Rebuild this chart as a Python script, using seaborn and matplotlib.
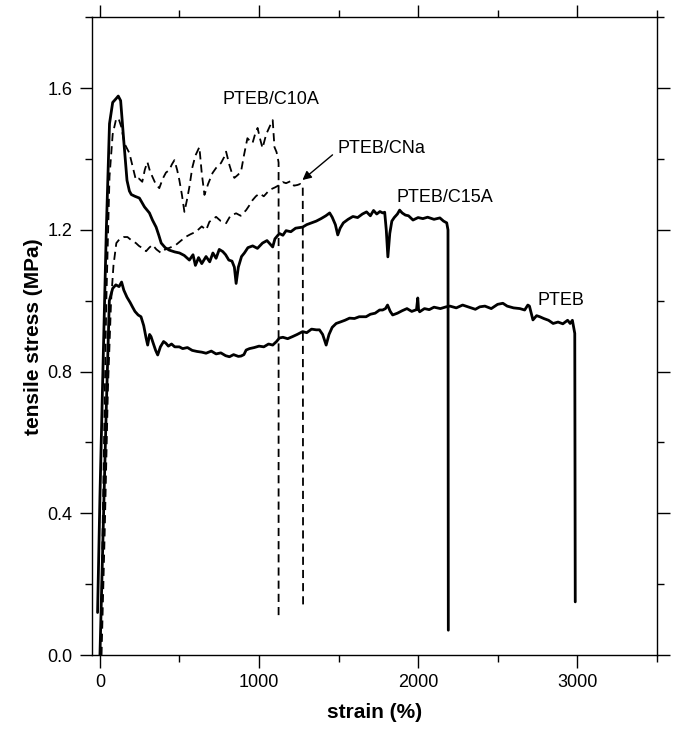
import matplotlib
matplotlib.use("Agg")
import matplotlib.pyplot as plt
from matplotlib.ticker import MultipleLocator
import seaborn as sns
import pandas as pd

# Stress-strain curves (strain in %, stress in MPa)
pteb_strain = [0, 20, 40, 59, 80, 100, 120, 136, 150, 170, 190, 204, 220, 240, 258, 275, 290, 300,
               312, 321, 335, 350, 363, 380, 400, 415, 430, 450, 470, 499, 520, 550, 580, 610, 640,
               667, 700, 730, 760, 790, 814, 840, 870, 887, 905, 919, 940, 970, 1000, 1030, 1060,
               1086, 1110, 1128, 1150, 1180, 1211, 1240, 1274, 1300, 1330, 1360, 1380, 1400, 1422,
               1440, 1460, 1485, 1510, 1540, 1569, 1600, 1630, 1673, 1700, 1730, 1758, 1777, 1795,
               1808, 1825, 1840, 1870, 1900, 1930, 1960, 1990, 1998, 2003, 2010, 2040, 2070, 2100,
               2140, 2177, 2200, 2240, 2280, 2320, 2360, 2388, 2420, 2460, 2500, 2533, 2560, 2600,
               2640, 2670, 2690, 2700, 2722, 2745, 2765, 2790, 2820, 2849, 2880, 2910, 2940, 2956,
               2970, 2985, 2988]
pteb_stress = [0.0, 0.35, 0.70, 1.0, 1.035, 1.045, 1.040, 1.053, 1.030, 1.010, 0.995, 0.983, 0.970,
               0.960, 0.955, 0.930, 0.895, 0.875, 0.905, 0.899, 0.880, 0.860, 0.847, 0.870, 0.885,
               0.880, 0.872, 0.878, 0.870, 0.870, 0.865, 0.868, 0.860, 0.857, 0.855, 0.852, 0.858,
               0.850, 0.853, 0.845, 0.842, 0.848, 0.843, 0.844, 0.848, 0.861, 0.865, 0.868, 0.872,
               0.870, 0.878, 0.875, 0.885, 0.895, 0.897, 0.893, 0.899, 0.905, 0.913, 0.910, 0.920,
               0.918, 0.918, 0.905, 0.875, 0.905, 0.925, 0.936, 0.940, 0.945, 0.951, 0.950, 0.955,
               0.955, 0.962, 0.965, 0.974, 0.974, 0.978, 0.988, 0.970, 0.960, 0.965, 0.972, 0.978,
               0.970, 0.975, 1.008, 0.975, 0.969, 0.978, 0.975, 0.982, 0.978, 0.983, 0.985, 0.980,
               0.988, 0.982, 0.976, 0.983, 0.985, 0.978, 0.990, 0.993, 0.985, 0.980, 0.978, 0.974,
               0.988, 0.985, 0.946, 0.958, 0.955, 0.950, 0.945, 0.936, 0.940, 0.935, 0.945, 0.936,
               0.945, 0.908, 0.15]

c15a_strain = [-15, 0, 20, 40, 60, 80, 100, 115, 130, 150, 170, 185, 197, 220, 248, 280, 311, 330,
               353, 370, 385, 410, 436, 470, 500, 530, 562, 585, 600, 620, 640, 667, 690, 710, 730,
               750, 772, 790, 810, 830, 845, 856, 870, 890, 908, 930, 960, 990, 1022, 1050, 1086,
               1100, 1128, 1150, 1170, 1200, 1230, 1274, 1300, 1330, 1360, 1390, 1420, 1444, 1460,
               1480, 1495, 1510, 1530, 1560, 1590, 1620, 1650, 1676, 1700, 1720, 1740, 1760, 1778,
               1790, 1800, 1810, 1822, 1835, 1850, 1870, 1884, 1900, 1920, 1940, 1968, 2000, 2030,
               2060, 2100, 2137, 2160, 2180, 2188, 2190]
c15a_stress = [0.12, 0.45, 0.83, 1.20, 1.50, 1.56, 1.57, 1.578, 1.565, 1.45, 1.34, 1.31, 1.30, 1.295,
               1.29, 1.265, 1.248, 1.228, 1.208, 1.185, 1.163, 1.150, 1.143, 1.138, 1.135, 1.128,
               1.115, 1.130, 1.100, 1.122, 1.105, 1.125, 1.110, 1.135, 1.120, 1.145, 1.139, 1.130,
               1.115, 1.112, 1.095, 1.049, 1.095, 1.125, 1.135, 1.150, 1.155, 1.148, 1.163, 1.170,
               1.152, 1.175, 1.190, 1.185, 1.198, 1.195, 1.205, 1.208, 1.215, 1.220, 1.225, 1.232,
               1.240, 1.248, 1.236, 1.215, 1.186, 1.205, 1.220, 1.230, 1.238, 1.235, 1.245, 1.251,
               1.240, 1.255, 1.245, 1.252, 1.248, 1.250, 1.200, 1.124, 1.190, 1.225, 1.235, 1.245,
               1.256, 1.248, 1.242, 1.240, 1.228, 1.235, 1.232, 1.236, 1.230, 1.234, 1.225, 1.220,
               1.200, 0.07]

c10a_strain = [5, 20, 40, 60, 80, 100, 116, 135, 153, 170, 185, 205, 226, 245, 266, 282, 298, 315,
               330, 350, 373, 395, 415, 436, 452, 468, 485, 499, 515, 531, 547, 562, 580, 600, 625,
               640, 657, 680, 708, 730, 761, 780, 793, 814, 830, 845, 866, 887, 905, 927, 945, 959,
               975, 991, 1005, 1022, 1045, 1066, 1086, 1097, 1110, 1117, 1123, 1123]
c10a_stress = [0.0, 0.45, 1.0, 1.35, 1.47, 1.51, 1.516, 1.49, 1.445, 1.43, 1.417, 1.38, 1.341, 1.345,
               1.336, 1.370, 1.392, 1.365, 1.350, 1.330, 1.318, 1.345, 1.362, 1.369, 1.385, 1.397,
               1.370, 1.341, 1.300, 1.251, 1.285, 1.321, 1.375, 1.410, 1.434, 1.360, 1.299, 1.330,
               1.361, 1.375, 1.389, 1.405, 1.421, 1.383, 1.360, 1.347, 1.355, 1.365, 1.410, 1.459,
               1.450, 1.445, 1.470, 1.488, 1.460, 1.431, 1.470, 1.491, 1.510, 1.434, 1.420, 1.406,
               1.39, 0.10]

cna_strain = [10, 30, 50, 70, 85, 103, 125, 150, 173, 200, 226, 245, 266, 290, 310, 330, 355, 384,
              410, 440, 478, 510, 541, 570, 604, 640, 668, 688, 710, 730, 760, 793, 820, 856, 885,
              919, 940, 959, 980, 1003, 1030, 1066, 1100, 1128, 1150, 1170, 1200, 1220, 1242, 1260,
              1275, 1277]
cna_stress = [0.0, 0.35, 0.75, 1.00, 1.10, 1.163, 1.175, 1.18, 1.18, 1.170, 1.163, 1.155, 1.149,
              1.140, 1.150, 1.158, 1.145, 1.135, 1.145, 1.150, 1.158, 1.170, 1.181, 1.188, 1.195,
              1.210, 1.200, 1.223, 1.230, 1.237, 1.225, 1.219, 1.240, 1.247, 1.240, 1.256, 1.270,
              1.284, 1.295, 1.303, 1.295, 1.313, 1.320, 1.327, 1.335, 1.332, 1.338, 1.325, 1.327,
              1.330, 1.327, 0.14]

# Sample names and where their labels sit (strain, stress)
sample_names = ["PTEB", "PTEB/C15A", "PTEB/C10A", "PTEB/CNa"]
label_xy = {"PTEB": (2752, 1.002), "PTEB/C15A": (1865, 1.293),
            "PTEB/C10A": (1072, 1.567), "PTEB/CNa": (1494, 1.431)}

sns.set_style("ticks")
plt.rcParams["font.family"] = ["Liberation Sans", "DejaVu Sans"]
plt.rcParams["text.color"] = "black"
plt.rcParams["axes.labelcolor"] = "black"
plt.rcParams["xtick.color"] = "black"
plt.rcParams["ytick.color"] = "black"

fig = plt.figure(figsize=(6.77, 7.29), dpi=100)
ax = fig.add_axes([0.1359, 0.1015, 0.8341, 0.8746])

curves = {
    "PTEB": (pteb_strain, pteb_stress, "-", 2.0),
    "PTEB/C15A": (c15a_strain, c15a_stress, "-", 2.0),
    "PTEB/C10A": (c10a_strain, c10a_stress, (0, (4.5, 2.8)), 1.3),
    "PTEB/CNa": (cna_strain, cna_stress, (0, (4.5, 2.8)), 1.3),
}
for name in sample_names:
    xs, ys, ls, lw = curves[name]
    df = pd.DataFrame({"strain": xs, "stress": ys})
    sns.lineplot(data=df, x="strain", y="stress", estimator=None, sort=False,
                 color="black", linestyle=ls, linewidth=lw, ax=ax)

for name in sample_names:
    tx, ty = label_xy[name]
    ax.text(tx, ty, name, fontsize=13, ha="left" if name != "PTEB/C10A" else "center",
            va="center", color="black")

ax.annotate("", xy=(1273, 1.341), xytext=(1462, 1.412),
            arrowprops=dict(arrowstyle="-|>", color="black", lw=1.0,
                            mutation_scale=13, shrinkA=0, shrinkB=0))

ax.set_xlim(-50, 3500)
ax.set_ylim(0, 1.8)
ax.xaxis.set_major_locator(MultipleLocator(1000))
ax.xaxis.set_minor_locator(MultipleLocator(500))
ax.yaxis.set_major_locator(MultipleLocator(0.4))
ax.yaxis.set_minor_locator(MultipleLocator(0.2))
ax.yaxis.set_major_formatter(plt.FuncFormatter(lambda v, p: f"{v:.1f}"))

ax.tick_params(which="both", direction="out", top=True, right=True,
               labeltop=False, labelright=False, width=1.0, color="black")
ax.tick_params(which="major", length=9, labelsize=13, pad=5)
ax.tick_params(which="minor", length=5)
for sp in ax.spines.values():
    sp.set_visible(True)
    sp.set_linewidth(1.0)
    sp.set_color("black")

ax.set_xlabel("strain (%)", fontsize=15, fontweight="bold", labelpad=8)
ax.set_ylabel("tensile stress (MPa)", fontsize=15, fontweight="bold", labelpad=3)

fig.savefig("out.png", dpi=100)
